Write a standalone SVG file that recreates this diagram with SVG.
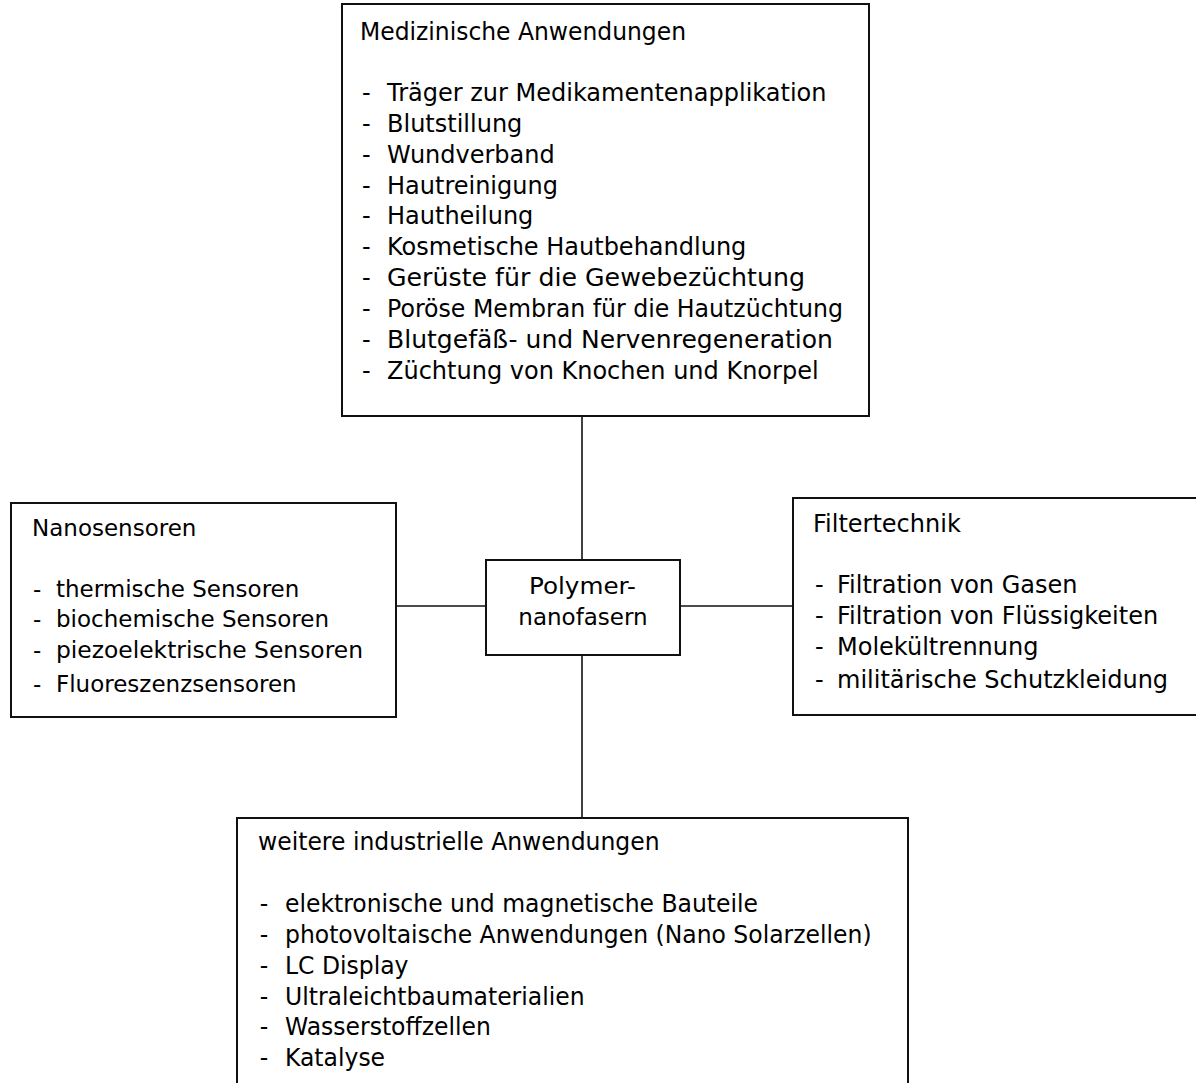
<svg xmlns="http://www.w3.org/2000/svg" width="1196" height="1083" viewBox="0 0 1196 1083">
<style>
.box{fill:#fff;stroke:#111;stroke-width:2}
.con{stroke:#111;stroke-width:1.6;fill:none}
text{font-family:"DejaVu Sans","Liberation Sans",sans-serif;font-size:24px;fill:#000}
.s{font-size:23px}
.b{font-size:25px}
.mid{text-anchor:middle}
</style>
<rect width="1196" height="1083" fill="#fff"/>
<g id="connectors">
<line class="con" x1="582" y1="416" x2="582" y2="560"/>
<line class="con" x1="396" y1="606" x2="486" y2="606"/>
<line class="con" x1="680" y1="606" x2="793" y2="606"/>
<line class="con" x1="582" y1="655" x2="582" y2="818"/>
</g>
<g id="medizin">
<rect class="box" x="342" y="4" width="527" height="412"/>
<text x="360" y="40" textLength="326" lengthAdjust="spacingAndGlyphs">Medizinische Anwendungen</text>
<text x="362" y="101">-</text><text x="387" y="101">Träger zur Medikamentenapplikation</text>
<text x="362" y="132">-</text><text x="387" y="132">Blutstillung</text>
<text x="362" y="163">-</text><text x="387" y="163">Wundverband</text>
<text x="362" y="194">-</text><text x="387" y="194">Hautreinigung</text>
<text x="362" y="224">-</text><text x="387" y="224">Hautheilung</text>
<text x="362" y="255">-</text><text x="387" y="255">Kosmetische Hautbehandlung</text>
<text x="362" y="286">-</text><text x="387" y="286" textLength="418" lengthAdjust="spacingAndGlyphs">Gerüste für die Gewebezüchtung</text>
<text x="362" y="317">-</text><text x="387" y="317" textLength="456" lengthAdjust="spacingAndGlyphs">Poröse Membran für die Hautzüchtung</text>
<text x="362" y="348">-</text><text x="387" y="348" textLength="446" lengthAdjust="spacingAndGlyphs">Blutgefäß- und Nervenregeneration</text>
<text x="362" y="379">-</text><text x="387" y="379">Züchtung von Knochen und Knorpel</text>
</g>
<g id="nanosensoren">
<rect class="box" x="11" y="503" width="385" height="214"/>
<text class="s" x="32" y="536">Nanosensoren</text>
<text class="s" x="33" y="597">-</text><text class="s" x="56" y="597">thermische Sensoren</text>
<text class="s" x="33" y="627">-</text><text class="s" x="56" y="627">biochemische Sensoren</text>
<text class="s" x="33" y="658">-</text><text class="s" x="56" y="658" textLength="307" lengthAdjust="spacingAndGlyphs">piezoelektrische Sensoren</text>
<text class="s" x="33" y="692">-</text><text class="s" x="56" y="692">Fluoreszenzsensoren</text>
</g>
<g id="polymer">
<rect class="box" x="486" y="560" width="194" height="95"/>
<text class="s" x="529" y="594" textLength="107" lengthAdjust="spacingAndGlyphs">Polymer-</text>
<text class="s mid" x="583" y="625">nanofasern</text>
</g>
<g id="filtertechnik">
<rect class="box" x="793" y="498" width="430" height="217"/>
<text x="813" y="532">Filtertechnik</text>
<text x="815" y="593">-</text><text x="837" y="593">Filtration von Gasen</text>
<text x="815" y="624">-</text><text x="837" y="624">Filtration von Flüssigkeiten</text>
<text x="815" y="655">-</text><text x="837" y="655">Molekültrennung</text>
<text x="815" y="688">-</text><text x="837" y="688">militärische Schutzkleidung</text>
</g>
<g id="industrie">
<rect class="box" x="237" y="818" width="671" height="300"/>
<g transform="translate(258,0) scale(0.94,1) translate(-258,0)">
<text class="b" x="258" y="850">weitere industrielle Anwendungen</text>
<text class="b" x="260" y="912">-</text><text class="b" x="286.7" y="912">elektronische und magnetische Bauteile</text>
<text class="b" x="260" y="943">-</text><text class="b" x="286.7" y="943">photovoltaische Anwendungen (Nano Solarzellen)</text>
<text class="b" x="260" y="974">-</text><text class="b" x="286.7" y="974">LC Display</text>
<text class="b" x="260" y="1005">-</text><text class="b" x="286.7" y="1005">Ultraleichtbaumaterialien</text>
<text class="b" x="260" y="1035">-</text><text class="b" x="286.7" y="1035">Wasserstoffzellen</text>
<text class="b" x="260" y="1066">-</text><text class="b" x="286.7" y="1066">Katalyse</text>
</g>
</g>
</svg>
